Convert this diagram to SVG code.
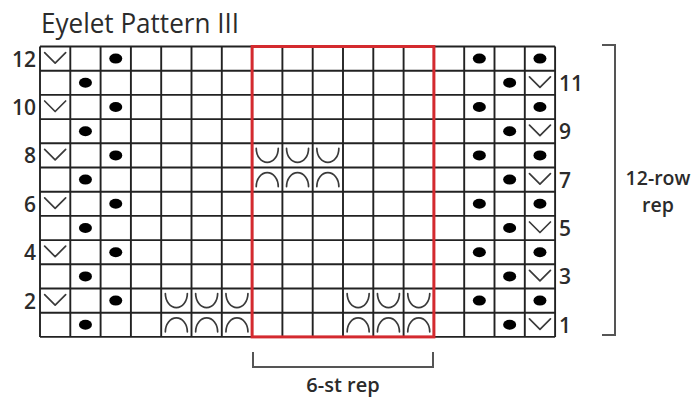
<svg xmlns="http://www.w3.org/2000/svg" xmlns:xlink="http://www.w3.org/1999/xlink" width="696" height="400" viewBox="0 0 696 400">
<style>
text{font-family:"Open Sans","Noto Sans","Liberation Sans",sans-serif;fill:#2b2b2b;font-weight:600}
.lbl{font-size:21px}
.grid line{stroke:#222;stroke-width:1.9}
.sym{fill:none;stroke:#3a3a3a;stroke-width:1.7;stroke-linecap:round;stroke-linejoin:round}
.dot{fill:#000}
.br{fill:none;stroke:#555;stroke-width:2}
</style>
<defs>
<path id="v" class="sym" d="M-10.5,-6 L0,4.5 L10.5,-6"/>
<ellipse id="d" class="dot" rx="6.5" ry="5"/>
<path id="u" class="sym" d="M-11,-7 A11,14 0 0 0 11,-7"/>
<path id="n" class="sym" d="M-11,7 A11,14 0 0 1 11,7"/>
</defs>
<rect width="696" height="400" fill="#fff"/>
<g id="title"><text x="41" y="32.5" font-size="26.5" textLength="198" lengthAdjust="spacingAndGlyphs" fill="#3a3a3a" style="font-weight:500">Eyelet Pattern III</text></g>
<g id="chart-grid" class="grid">
<line x1="40" y1="46.5" x2="40" y2="336.9"/><line x1="70.3" y1="46.5" x2="70.3" y2="336.9"/><line x1="100.6" y1="46.5" x2="100.6" y2="336.9"/><line x1="130.9" y1="46.5" x2="130.9" y2="336.9"/><line x1="161.2" y1="46.5" x2="161.2" y2="336.9"/><line x1="191.5" y1="46.5" x2="191.5" y2="336.9"/><line x1="221.8" y1="46.5" x2="221.8" y2="336.9"/><line x1="252.1" y1="46.5" x2="252.1" y2="336.9"/><line x1="282.4" y1="46.5" x2="282.4" y2="336.9"/><line x1="312.7" y1="46.5" x2="312.7" y2="336.9"/><line x1="343" y1="46.5" x2="343" y2="336.9"/><line x1="373.3" y1="46.5" x2="373.3" y2="336.9"/><line x1="403.6" y1="46.5" x2="403.6" y2="336.9"/><line x1="433.9" y1="46.5" x2="433.9" y2="336.9"/><line x1="464.2" y1="46.5" x2="464.2" y2="336.9"/><line x1="494.5" y1="46.5" x2="494.5" y2="336.9"/><line x1="524.8" y1="46.5" x2="524.8" y2="336.9"/><line x1="555.1" y1="46.5" x2="555.1" y2="336.9"/>
<line x1="40" y1="46.5" x2="555.1" y2="46.5"/><line x1="40" y1="70.7" x2="555.1" y2="70.7"/><line x1="40" y1="94.9" x2="555.1" y2="94.9"/><line x1="40" y1="119.1" x2="555.1" y2="119.1"/><line x1="40" y1="143.3" x2="555.1" y2="143.3"/><line x1="40" y1="167.5" x2="555.1" y2="167.5"/><line x1="40" y1="191.7" x2="555.1" y2="191.7"/><line x1="40" y1="215.9" x2="555.1" y2="215.9"/><line x1="40" y1="240.1" x2="555.1" y2="240.1"/><line x1="40" y1="264.3" x2="555.1" y2="264.3"/><line x1="40" y1="288.5" x2="555.1" y2="288.5"/><line x1="40" y1="312.7" x2="555.1" y2="312.7"/><line x1="40" y1="336.9" x2="555.1" y2="336.9"/>
</g>
<g id="symbols">
<use href="#v" x="55.15" y="58.6"/><use href="#d" x="115.75" y="58.6"/><use href="#d" x="479.35" y="58.6"/><use href="#d" x="539.95" y="58.6"/>
<use href="#v" x="55.15" y="107"/><use href="#d" x="115.75" y="107"/><use href="#d" x="479.35" y="107"/><use href="#d" x="539.95" y="107"/>
<use href="#v" x="55.15" y="155.4"/><use href="#d" x="115.75" y="155.4"/><use href="#d" x="479.35" y="155.4"/><use href="#d" x="539.95" y="155.4"/>
<use href="#v" x="55.15" y="203.8"/><use href="#d" x="115.75" y="203.8"/><use href="#d" x="479.35" y="203.8"/><use href="#d" x="539.95" y="203.8"/>
<use href="#v" x="55.15" y="252.2"/><use href="#d" x="115.75" y="252.2"/><use href="#d" x="479.35" y="252.2"/><use href="#d" x="539.95" y="252.2"/>
<use href="#v" x="55.15" y="300.6"/><use href="#d" x="115.75" y="300.6"/><use href="#d" x="479.35" y="300.6"/><use href="#d" x="539.95" y="300.6"/>
<use href="#d" x="85.45" y="82.8"/><use href="#d" x="509.65" y="82.8"/><use href="#v" x="539.95" y="82.8"/>
<use href="#d" x="85.45" y="131.2"/><use href="#d" x="509.65" y="131.2"/><use href="#v" x="539.95" y="131.2"/>
<use href="#d" x="85.45" y="179.6"/><use href="#d" x="509.65" y="179.6"/><use href="#v" x="539.95" y="179.6"/>
<use href="#d" x="85.45" y="228"/><use href="#d" x="509.65" y="228"/><use href="#v" x="539.95" y="228"/>
<use href="#d" x="85.45" y="276.4"/><use href="#d" x="509.65" y="276.4"/><use href="#v" x="539.95" y="276.4"/>
<use href="#d" x="85.45" y="324.8"/><use href="#d" x="509.65" y="324.8"/><use href="#v" x="539.95" y="324.8"/>
<use href="#u" x="267.25" y="155.4"/><use href="#u" x="297.55" y="155.4"/><use href="#u" x="327.85" y="155.4"/>
<use href="#n" x="267.25" y="179.6"/><use href="#n" x="297.55" y="179.6"/><use href="#n" x="327.85" y="179.6"/>
<use href="#u" x="176.35" y="300.6"/><use href="#u" x="206.65" y="300.6"/><use href="#u" x="236.95" y="300.6"/>
<use href="#u" x="358.15" y="300.6"/><use href="#u" x="388.45" y="300.6"/><use href="#u" x="418.75" y="300.6"/>
<use href="#n" x="176.35" y="324.8"/><use href="#n" x="206.65" y="324.8"/><use href="#n" x="236.95" y="324.8"/>
<use href="#n" x="358.15" y="324.8"/><use href="#n" x="388.45" y="324.8"/><use href="#n" x="418.75" y="324.8"/>
</g>
<g id="repeat-box"><rect x="252.1" y="46.5" width="181.8" height="290.4" fill="none" stroke="#d42a2f" stroke-width="3"/></g>
<g id="row-labels-left" class="lbl" text-anchor="end">
<text x="36" y="66.5">12</text><text x="36" y="114.9">10</text><text x="36" y="163.3">8</text><text x="36" y="211.7">6</text><text x="36" y="260.1">4</text><text x="36" y="308.5">2</text>
</g>
<g id="row-labels-right" class="lbl">
<text x="559" y="90.7">11</text><text x="559" y="139.1">9</text><text x="559" y="187.5">7</text><text x="559" y="235.9">5</text><text x="559" y="284.3">3</text><text x="559" y="332.7">1</text>
</g>
<g id="row-rep">
<path class="br" d="M602,45 H615 V335 H602"/>
<text x="658" y="185" text-anchor="middle" font-size="19.5">12-row</text>
<text x="658" y="212" text-anchor="middle" font-size="19.5">rep</text>
</g>
<g id="st-rep">
<path class="br" d="M253,352 V367 H433 V352"/>
<text x="343" y="392" text-anchor="middle" font-size="20">6-st rep</text>
</g>
</svg>
